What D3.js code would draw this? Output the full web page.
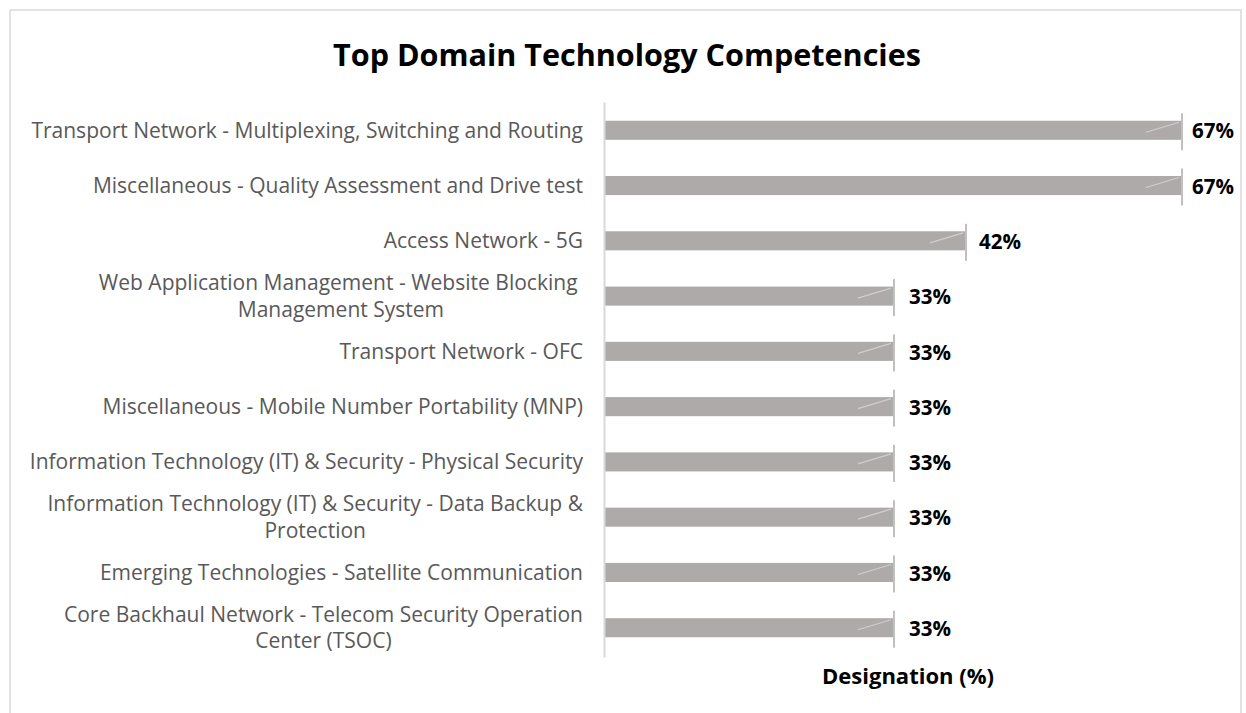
<!DOCTYPE html>
<html><head><meta charset="utf-8">
<script src="https://cdn.jsdelivr.net/npm/d3@7"></script>
<style>body{margin:0;background:#fff}svg{display:block}</style>
</head><body>
<svg id="c" width="1246" height="713"></svg>
<script>
const categories = [
  "Transport Network - Multiplexing, Switching and Routing",
  "Miscellaneous - Quality Assessment and Drive test",
  "Access Network - 5G",
  "Web Application Management - Website Blocking |Management System",
  "Transport Network - OFC",
  "Miscellaneous - Mobile Number Portability (MNP)",
  "Information Technology (IT) & Security - Physical Security",
  "Information Technology (IT) & Security - Data Backup &|Protection",
  "Emerging Technologies - Satellite Communication",
  "Core Backhaul Network - Telecom Security Operation|Center (TSOC)"
];
const values = [66.67, 66.67, 41.67, 33.33, 33.33, 33.33, 33.33, 33.33, 33.33, 33.33];
const title = "Top Domain Technology Competencies";
const axisTitle = "Designation (%)";

const svg = d3.select("#c");
const font = "'Open Sans', sans-serif";

function fitSize(str, weight, target) {
  const t = svg.append("text").attr("font-family",font).attr("font-weight",weight)
    .attr("font-size",20).style("white-space","pre").text(str);
  const w = t.node().getComputedTextLength();
  t.remove();
  return 20 * target / w;
}

svg.append("rect").attr("x",10).attr("y",10).attr("width",1231).attr("height",720)
  .attr("fill","none").attr("stroke","#d9d9d9").attr("stroke-width",1.5);

svg.append("text").attr("x",627).attr("y",55).attr("dy","0.35em").attr("text-anchor","middle")
  .attr("font-family",font).attr("font-weight","bold").attr("font-size",fitSize(title,"bold",588))
  .attr("fill","#000").text(title);

const x = d3.scaleLinear().domain([0,100]).range([605, 605+864]);
const y = d3.scaleBand().domain(d3.range(categories.length)).range([102.5, 655.5]).paddingInner(0.655).paddingOuter(0.33);

const g = svg.append("g");
const cy = i => y(i) + y.bandwidth()/2;

g.selectAll("rect.bar").data(values).join("rect").attr("class","bar")
  .attr("x", x(0)).attr("y",(d,i)=>y(i)).attr("height",y.bandwidth())
  .attr("width", d=>x(d)-x(0)).attr("fill","#aeaaaa");

g.selectAll("line.diag").data(values).join("line").attr("class","diag")
  .attr("x1", d=>x(d)-35).attr("y1",(d,i)=>cy(i)+2)
  .attr("x2", d=>x(d)-2).attr("y2",(d,i)=>cy(i)-8)
  .attr("stroke","#d0cece").attr("stroke-width",1.2);

g.selectAll("line.mark").data(values).join("line").attr("class","mark")
  .attr("x1", d=>x(d)+1).attr("x2", d=>x(d)+1)
  .attr("y1",(d,i)=>cy(i)-17).attr("y2",(d,i)=>cy(i)+20)
  .attr("stroke","#bfbfbf").attr("stroke-width",2);

const axis = d3.axisLeft(d3.scaleLinear().range([102,657])).ticks(0).tickSize(0).tickFormat("");
const ag = svg.append("g").attr("transform",`translate(${x(0)-1},0)`).call(axis);
ag.select(".domain").attr("stroke","#d9d9d9").attr("stroke-width",2);

const valSize = fitSize("67%","bold",42);
g.selectAll("text.val").data(values).join("text").attr("class","val")
  .attr("x", d=>x(d) + (d < 40 ? 16 : d < 50 ? 14 : 11)).attr("y",(d,i)=>cy(i)+1).attr("dy","0.35em")
  .attr("font-family",font).attr("font-weight","bold").attr("font-size",valSize)
  .attr("fill","#000").text(d=>Math.round(d)+"%");

const labSize = fitSize(categories[0],"normal",552);
categories.forEach((c,i)=>{
  const lines = c.split("|");
  const t = svg.append("text").attr("font-family",font).attr("font-size",labSize)
    .attr("fill","#595959").style("white-space","pre");
  const spans = lines.map(l=>t.append("tspan").text(l));
  const w = Math.max(...spans.map(s=>s.node().getComputedTextLength()));
  const right = 583, lh = 26.5;
  const y0 = cy(i) - (lines.length-1)*lh/2;
  spans.forEach((s,j)=>{
    s.attr("x", right - w/2).attr("text-anchor","middle").attr("y", y0 + j*lh).attr("dy","0.35em");
  });
});

svg.append("text").attr("x",908).attr("y",676).attr("dy","0.35em").attr("text-anchor","middle")
  .attr("font-family",font).attr("font-weight","bold").attr("font-size",fitSize(axisTitle,"bold",172))
  .attr("fill","#000").text(axisTitle);
</script>
</body></html>
